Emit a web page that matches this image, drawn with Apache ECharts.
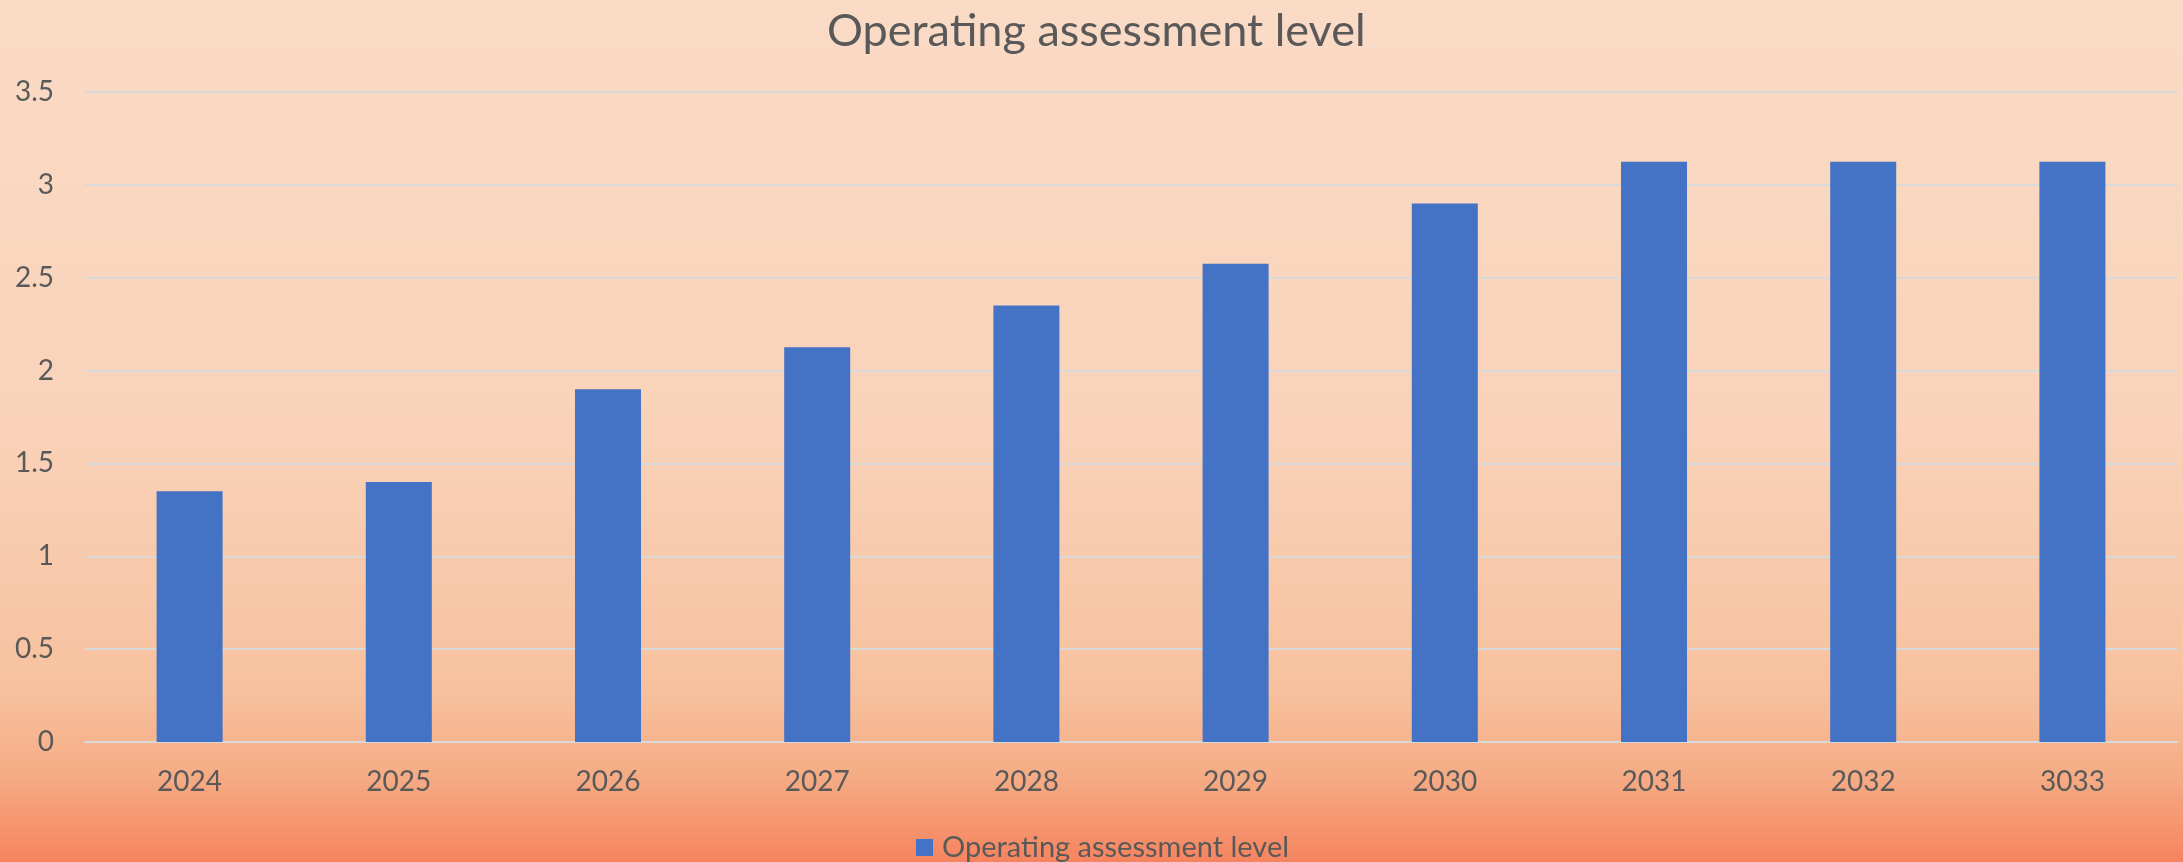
<!DOCTYPE html>
<html>
<head>
<meta charset="utf-8">
<script src="https://cdn.jsdelivr.net/npm/echarts@6/dist/echarts.min.js"></script>
<style>
	html, body { margin:0; padding:0; }
	#main { width:2183px; height:862px; }
</style>
</head>
<body>
<div id="main"></div>
<script>
//图表数据
var years  = ['2024','2025','2026','2027','2028','2029','2030','2031','2032','3033'];
var levels = [1.35, 1.4, 1.9, 2.125, 2.35, 2.575, 2.9, 3.125, 3.125, 3.125];
var seriesName = 'Operating assessment level';

var myChart = echarts.init(document.getElementById('main'));
var option = {
	backgroundColor: new echarts.graphic.LinearGradient(0, 0, 0, 1, [
		{offset: 0, color: '#FADBC6'},
		{offset: 0.5, color: '#F9D2B9'},
		{offset: 0.8, color: '#F7C19E'},
		{offset: 0.9, color: '#F5AC85'},
		{offset: 1, color: '#F5845F'}
	]),
	textStyle: { fontFamily: 'Lato' },
	title: {
		text: seriesName,
		left: 822,
		top: 4,
		textStyle: { fontFamily:'Lato', fontSize:45, fontWeight:'normal', color:'#595959' }
	},
	legend: {
		data: [seriesName],
		left: 911,
		top: 828,
		icon: 'rect',
		itemWidth: 17,
		itemHeight: 17,
		textStyle: { fontFamily:'Lato', fontSize:29, color:'#595959', padding:[0,0,0,4] }
	},
	grid: { left:85, right:6, top:92, bottom:120 },
	xAxis: {
		type: 'category',
		data: years,
		axisLine: { show:true, lineStyle:{ color:'#D9D9D9', width:2 } },
		axisTick: { show:false },
		axisLabel: { margin:26, fontSize:28, color:'#595959', fontFamily:'Lato' }
	},
	yAxis: {
		type: 'value',
		min: 0,
		max: 3.5,
		interval: 0.5,
		axisLine: { show:false },
		axisTick: { show:false },
		axisLabel: { margin:31, fontSize:28, color:'#595959', fontFamily:'Lato' },
		splitLine: { lineStyle:{ color:'#D9D9D9', width:2 } }
	},
	series: [{
		name: seriesName,
		type: 'bar',
		data: levels,
		barWidth: 66,
		itemStyle: { color:'#4472C4' }
	}]
};
myChart.setOption(option);
</script>
</body>
</html>
